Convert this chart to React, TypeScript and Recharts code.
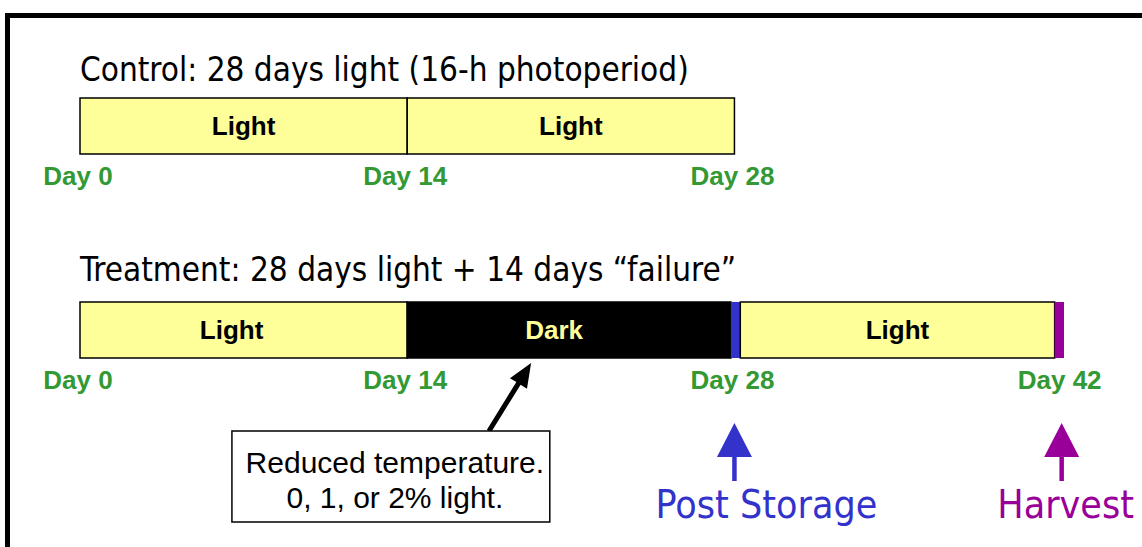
import React from 'react';
import { BarChart, Bar, XAxis, YAxis, Cell, LabelList } from 'recharts';

// ---- data ----
const rows = ['Control', 'Treatment'];
const titles = [
  'Control: 28 days light (16-h photoperiod)',
  'Treatment: 28 days light + 14 days \u201Cfailure\u201D',
];
const seg1 = [14, 14]; // Light
const seg2 = [14, 13.85]; // Light (control) / Dark (treatment)
const seg3 = [0, 0.4]; // post-storage marker
const seg4 = [0, 13.45]; // Light (recovery)
const seg5 = [0, 0.4]; // harvest marker
const seg1Labels = ['Light', 'Light'];
const seg2Labels = ['Light', 'Dark'];
const seg4Label = 'Light';
const dayTicks = [
  [0, 14, 28],
  [0, 14, 28, 42],
];
const noteLines = ['Reduced temperature.', '0, 1, or 2% light.'];
const events = [
  { day: 28, label: 'Post Storage', color: '#3333CC' },
  { day: 42, label: 'Harvest', color: '#990099' },
];

const data = rows.map((name, i) => ({
  name,
  s1: seg1[i],
  s2: seg2[i],
  s3: seg3[i],
  s4: seg4[i],
  s5: seg5[i],
}));

const YELLOW = '#FFFF99';
const GREEN = '#339933';
const BOLD = '"Liberation Sans", Arial, sans-serif';
const TAHOMA = '"DejaVu Sans Condensed", "DejaVu Sans", sans-serif';

function arrowPath(x1: number, y1: number, x2: number, y2: number, shaft: number, headL: number, headW: number) {
  const dx = x2 - x1;
  const dy = y2 - y1;
  const len = Math.sqrt(dx * dx + dy * dy);
  const ux = dx / len;
  const uy = dy / len;
  const px = -uy;
  const py = ux;
  const bx = x2 - ux * headL;
  const by = y2 - uy * headL;
  const s = shaft / 2;
  const h = headW / 2;
  const pts = [
    [x1 + px * s, y1 + py * s],
    [bx + px * s, by + py * s],
    [bx + px * h, by + py * h],
    [x2, y2],
    [bx - px * h, by - py * h],
    [bx - px * s, by - py * s],
    [x1 - px * s, y1 - py * s],
  ];
  return pts.map((p) => p.join(',')).join(' ');
}

function segWidthPerUnit(props: any) {
  const v = props.value;
  const val = Array.isArray(v) ? v[1] - v[0] : Number(v);
  return props.width / val;
}

const FirstSegLabel = (props: any) => {
  const { x, y, width, height, index } = props;
  const ppd = segWidthPerUnit(props);
  const cx = x + width / 2 + (index === 1 ? -12 : 0);
  const bottom = y + height;
  const titleY = index === 0 ? y - 17 : y - 21;
  return (
    <g>
      <text x={x} y={titleY} fontFamily={TAHOMA} fontSize={33} fill="#000">
        {titles[index]}
      </text>
      <text x={cx} y={y + height / 2 + 9} textAnchor="middle" fontFamily={BOLD} fontWeight="bold" fontSize={26} fill="#000">
        {seg1Labels[index]}
      </text>
      {dayTicks[index].map((d) => (
        <text
          key={d}
          x={x + d * ppd - 2}
          y={bottom + 31}
          textAnchor="middle"
          fontFamily={BOLD}
          fontWeight="bold"
          fontSize={26}
          fill={GREEN}
        >
          {`Day ${d}`}
        </text>
      ))}
      {index === 1 && (
        <g>
          {events.map((e) => {
            const ax = x + e.day * ppd;
            return (
              <g key={e.label}>
                <polygon points={arrowPath(ax, bottom + 123, ax, bottom + 65, 4.5, 34, 35)} fill={e.color} />
                <text
                  x={ax + (e.day === 28 ? 32 : 4)}
                  y={bottom + 160}
                  textAnchor="middle"
                  fontFamily={TAHOMA}
                  fontSize={39}
                  fill={e.color}
                >
                  {e.label}
                </text>
              </g>
            );
          })}
          {/* note box + arrow */}
          <polygon points={arrowPath(x + 17.5 * ppd, bottom + 73, x + 19.3 * ppd, bottom + 5, 5, 24, 20)} fill="#000" />
          <rect x={x + 6.5 * ppd} y={bottom + 73} width={13.6 * ppd} height={91} fill="#fff" stroke="#000" strokeWidth={1.5} />
          {noteLines.map((l, k) => (
            <text
              key={k}
              x={x + 13.3 * ppd + 4}
              y={bottom + 115 + k * 35}
              textAnchor="middle"
              fontFamily={BOLD}
              fontSize={30}
              fill="#000"
            >
              {l}
            </text>
          ))}
        </g>
      )}
    </g>
  );
};

const CenterLabel = (labels: string[], color: (i: number) => string) => (props: any) => {
  const { x, y, width, height, index } = props;
  if (!labels[index]) return null;
  return (
    <text
      x={x + width / 2 - (index === 1 ? 15 : 0)}
      y={y + height / 2 + 9}
      textAnchor="middle"
      fontFamily={BOLD}
      fontWeight="bold"
      fontSize={26}
      fill={color(index)}
    >
      {labels[index]}
    </text>
  );
};

const Seg4Label = (props: any) => {
  const { x, y, width, height } = props;
  if (!width || width < 40) return null;
  return (
    <text x={x + width / 2} y={y + height / 2 + 9} textAnchor="middle" fontFamily={BOLD} fontWeight="bold" fontSize={26} fill="#000">
      {seg4Label}
    </text>
  );
};

export default function App() {
  return (
    <div style={{ position: 'absolute', left: 0, top: 0, width: 1142, height: 547, overflow: 'hidden', background: '#fff' }}>
      <div
        style={{
          position: 'absolute',
          left: 5,
          top: 13,
          width: 1400,
          height: 800,
          border: '5px solid #000',
          boxSizing: 'border-box',
        }}
      />
      <div style={{ position: 'absolute', left: 0, top: 0 }}>
        <BarChart
          width={1142}
          height={547}
          data={data}
          layout="vertical"
          margin={{ top: 24, bottom: 115, left: 80, right: 78 }}
          barSize={56}
        >
          <XAxis type="number" domain={[0, 42.1]} hide />
          <YAxis type="category" dataKey="name" hide />
          <Bar dataKey="s1" stackId="a" isAnimationActive={false} fill={YELLOW} stroke="#000" strokeWidth={1.5}>
            <LabelList dataKey="s1" content={FirstSegLabel} />
          </Bar>
          <Bar dataKey="s2" stackId="a" isAnimationActive={false} stroke="#000" strokeWidth={1.5}>
            {data.map((d, i) => (
              <Cell key={i} fill={i === 0 ? YELLOW : '#000'} />
            ))}
            <LabelList dataKey="s2" content={CenterLabel(seg2Labels, (i) => (i === 0 ? '#000' : YELLOW))} />
          </Bar>
          <Bar dataKey="s3" stackId="a" isAnimationActive={false} fill="#3333CC" />
          <Bar dataKey="s4" stackId="a" isAnimationActive={false} fill={YELLOW} stroke="#000" strokeWidth={1.5}>
            <LabelList dataKey="s4" content={Seg4Label} />
          </Bar>
          <Bar dataKey="s5" stackId="a" isAnimationActive={false} fill="#990099" />
        </BarChart>
      </div>
    </div>
  );
}
